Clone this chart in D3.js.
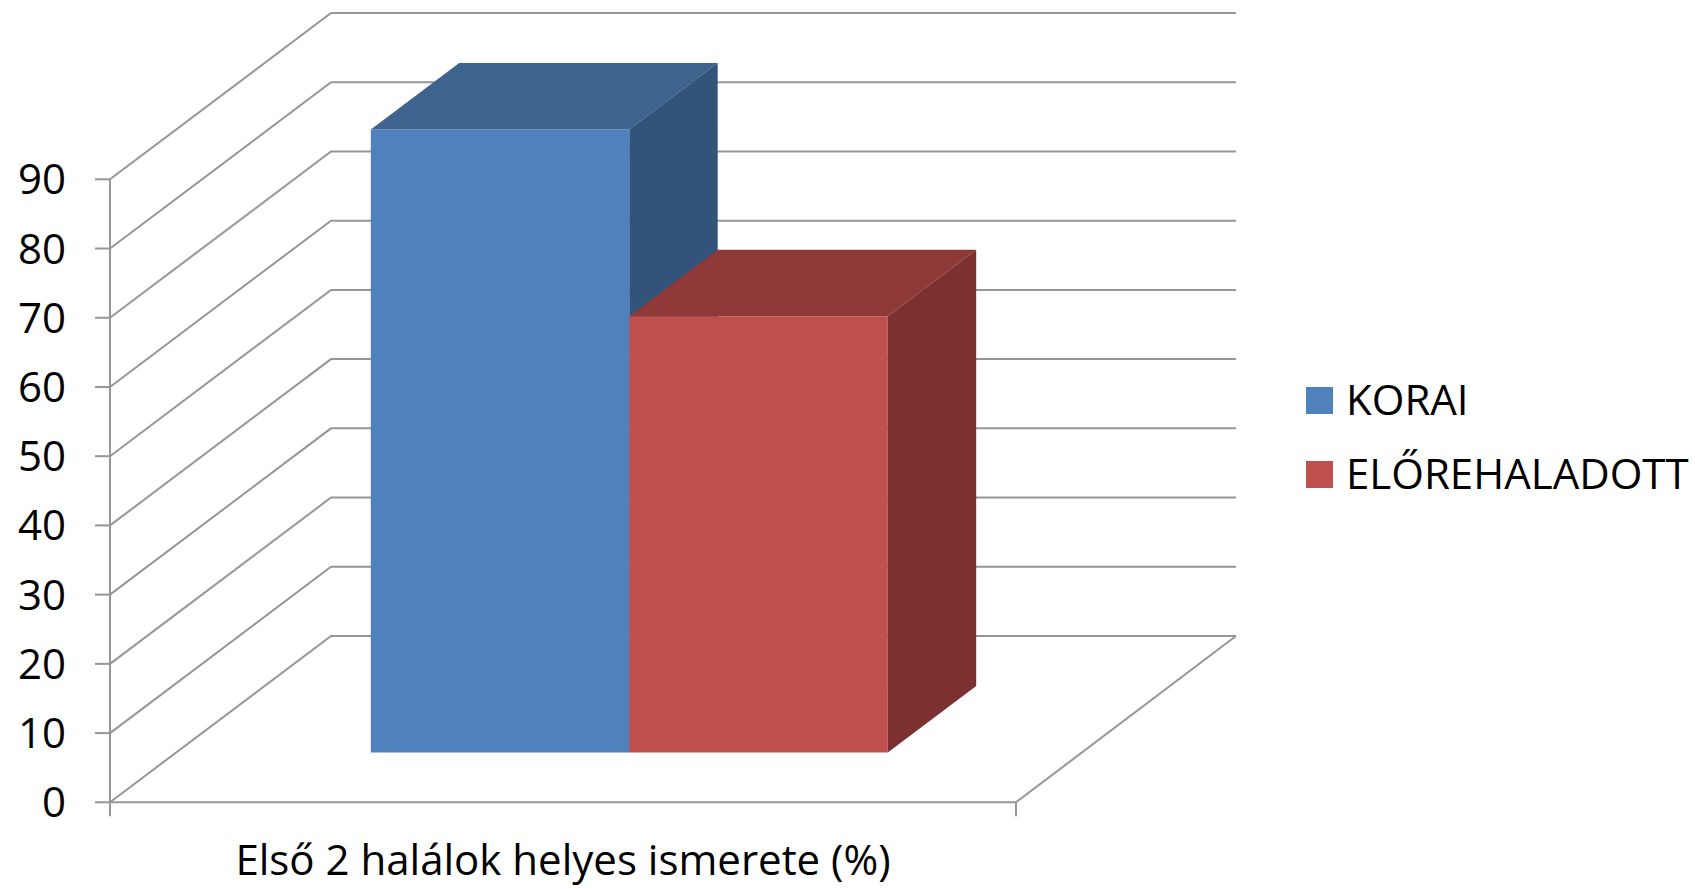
<!DOCTYPE html>
<html>
<head>
<meta charset="utf-8">
<script src="https://cdn.jsdelivr.net/npm/d3@7"></script>
<style>
  html, body { margin: 0; padding: 0; background: #fff; }
  svg text { font-family: "Open Sans", "Noto Sans", sans-serif; fill: #000; }
</style>
</head>
<body>
<svg id="viz" width="1695" height="889"></svg>
<script>
// chart data
var categories = ["Első 2 halálok helyes ismerete (%)"];
var seriesNames = ["KORAI", "ELŐREHALADOTT"];
var seriesValues = [90, 63];
var yTicks = [0, 10, 20, 30, 40, 50, 60, 70, 80, 90];

// face colours per series: front, top, side
var faceColors = [
  {front: "#4f81bd", top: "#3d638e", side: "#32547a"},
  {front: "#c0504d", top: "#8f3a39", side: "#7c3130"}
];
var gridColor = "#969696";

var svg = d3.select("#viz");

// depth offset of the 3d box (full depth)
var DX = 221, DY = -166.3;

var yScale = d3.scaleLinear().domain([0, 90]).range([802.3, 179.3]);
var xScale = d3.scaleBand().domain(categories).range([110, 1016]);

function proj(x, v, t){
  return [x + t * DX, yScale(v) + t * DY];
}
function poly(pts){
  return "M" + pts.map(function(p){ return p[0] + "," + p[1]; }).join("L") + "Z";
}

var x0 = xScale.range()[0], x1 = xScale.range()[1];
var backRight = 1236;

// gridlines on left wall and back wall
var grid = svg.append("g").attr("fill", "none").attr("stroke", gridColor).attr("stroke-width", 2);
yTicks.forEach(function(v){
  var a = proj(x0, v, 0), b = proj(x0, v, 1);
  grid.append("path").attr("d", "M" + a + "L" + b + "L" + backRight + "," + b[1]);
});
// floor
var f1 = proj(x1, 0, 0), f2 = proj(x1, 0, 1);
grid.append("path").attr("d", "M" + proj(x0, 0, 0) + "L" + f1 + "L" + backRight + "," + f2[1]);

// front axes
var axis = svg.append("g").attr("stroke", gridColor).attr("stroke-width", 2).attr("fill", "none");
axis.append("line").attr("x1", x0).attr("x2", x0)
  .attr("y1", yScale(90)).attr("y2", yScale(0));
yTicks.forEach(function(v){
  axis.append("line").attr("x1", x0 - 15).attr("x2", x0)
    .attr("y1", yScale(v)).attr("y2", yScale(v));
});
[x0, x1].forEach(function(x){
  axis.append("line").attr("x1", x).attr("x2", x)
    .attr("y1", yScale(0)).attr("y2", yScale(0) + 14);
});

svg.append("g").selectAll("text").data(yTicks).enter().append("text")
  .attr("x", 66).attr("y", function(d){ return yScale(d) + 15; })
  .attr("text-anchor", "end").attr("font-size", 42)
  .text(function(d){ return d; });

// bars
var bw = xScale.bandwidth();
var gap = 0.2147 * bw;
var sScale = d3.scaleBand().domain(seriesNames)
  .range([xScale(categories[0]) + gap, xScale(categories[0]) + bw - gap]);
var t0 = 0.3, t1 = 0.7;

var bars = svg.append("g");
seriesNames.forEach(function(name, i){
  var v = seriesValues[i];
  var l = sScale(name), r = l + sScale.bandwidth();
  var c = faceColors[i];
  // front face
  bars.append("path").attr("fill", c.front)
    .attr("d", poly([proj(l, 0, t0), proj(r, 0, t0), proj(r, v, t0), proj(l, v, t0)]));
  // top face
  bars.append("path").attr("fill", c.top)
    .attr("d", poly([proj(l, v, t0), proj(r, v, t0), proj(r, v, t1), proj(l, v, t1)]));
  // right side face
  bars.append("path").attr("fill", c.side)
    .attr("d", poly([proj(r, 0, t0), proj(r, 0, t1), proj(r, v, t1), proj(r, v, t0)]));
});

// category label
svg.append("text")
  .attr("x", xScale(categories[0]) + bw / 2).attr("y", 875)
  .attr("text-anchor", "middle").attr("font-size", 42)
  .text(categories[0]);

// legend
var legend = svg.append("g").attr("transform", "translate(1306,387)");
seriesNames.forEach(function(name, i){
  var g = legend.append("g").attr("transform", "translate(0," + (i * 74) + ")");
  g.append("rect").attr("width", 27).attr("height", 27).attr("fill", faceColors[i].front);
  g.append("text").attr("x", 40).attr("y", 28).attr("font-size", 42).text(name);
});
</script>
</body>
</html>
